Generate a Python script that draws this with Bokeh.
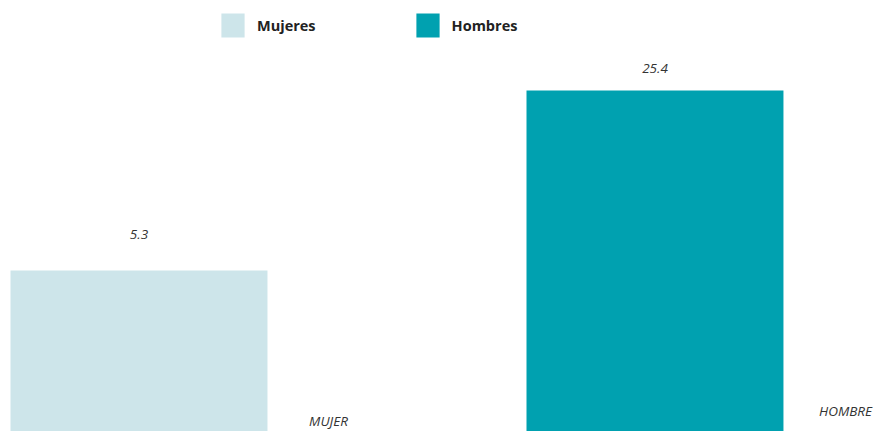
from bokeh.plotting import figure
from bokeh.models import ColumnDataSource, Range1d, Legend, LegendItem
from bokeh.core.properties import value
from bokeh.embed import file_html
from bokeh.resources import INLINE

categories = ["MUJER", "HOMBRE"]
legend_labels = ["Mujeres", "Hombres"]
values = [5.3, 25.4]
colors = ["#cde5ea", "#00a1b0"]

x = list(range(len(categories)))
Y0 = -12.68
src = ColumnDataSource(dict(x=x, top=values, bottom=[Y0 - 10] * len(values),
                            color=colors, cat=categories,
                            lbl=[f"{v:.1f}" for v in values]))

p = figure(width=873, height=431, output_backend="svg", toolbar_location=None,
           x_range=Range1d(-0.2684, 1.4235), y_range=Range1d(Y0, 35.45),
           min_border=0, outline_line_color=None)
p.axis.visible = False
p.grid.visible = False

r = p.vbar(x="x", top="top", bottom="bottom", width=0.498, color="color",
           line_color=None, source=src)

# value labels
for i in range(len(values)):
    p.text(x=[x[i]], y=[values[i]], text=[src.data["lbl"][i]],
           text_align="center", text_baseline="middle",
           y_offset=[-36, -21.5][i],
           text_font=value("Open Sans"), text_font_size="13.5px",
           text_font_style="italic", text_color="#333333")

# category labels
for i in range(len(categories)):
    p.text(x=[x[i]], y=[Y0], text=[categories[i]],
           text_align="center", text_baseline="middle",
           x_offset=[189.5, 190.5][i], y_offset=[-11, -21][i],
           text_font=value("Open Sans"), text_font_size="13.5px",
           text_font_style="italic", text_color="#333333")

items = [LegendItem(label=legend_labels[i], renderers=[r], index=i) for i in range(len(legend_labels))]
legend = Legend(items=items, orientation="horizontal", location=(218, 391),
                glyph_width=29, glyph_height=30, label_standoff=10, spacing=97,
                padding=0, margin=0, border_line_alpha=0, background_fill_alpha=0,
                label_text_font="Open Sans", label_text_font_size="14.5px",
                label_text_font_style="bold", label_text_color="#222222")
p.add_layout(legend)

open("out.html", "w").write(file_html(p, INLINE))
